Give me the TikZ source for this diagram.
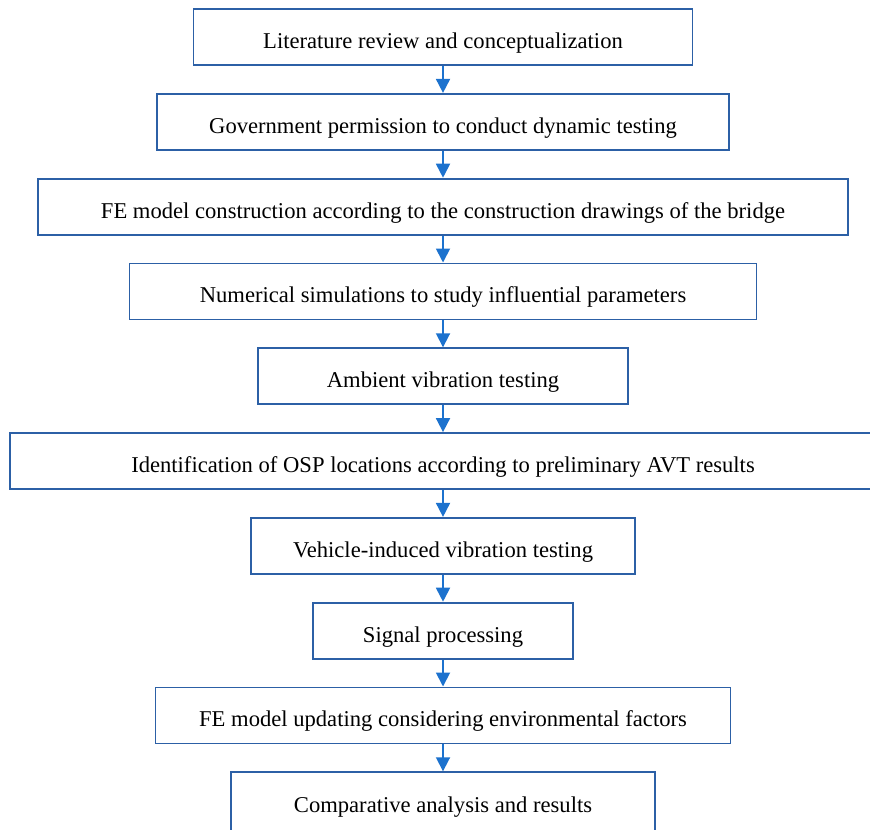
\documentclass[tikz,border=0pt]{standalone}
\usepackage{fontspec}
\setmainfont{Liberation Serif}
\usetikzlibrary{arrows.meta,positioning}
\definecolor{boxblue}{RGB}{44,96,166}
\definecolor{arrowblue}{RGB}{28,114,206}

\begin{document}
\begin{tikzpicture}[->,>={Triangle[width=7pt,length=7pt]},node distance=13.5pt,
                flow box/.style={rectangle,draw=boxblue,line width=0.9pt,fill=white,
                  minimum height=28pt,inner sep=0pt,text height=11.5pt,text depth=0pt,
                  font=\fontsize{11.3}{13}\selectfont},
                every edge/.style={draw=arrowblue,line width=0.9pt}]

  \useasboundingbox (0,0) rectangle (435pt,-414.5pt);

  \node[flow box,minimum width=249.5pt] (1) at (221.5pt,-18.5pt) {Literature review and conceptualization};
  \node[flow box,minimum width=286pt] (2) [below=of 1] {Government permission to conduct dynamic testing};
  \node[flow box,minimum width=405pt] (3) [below=of 2] {FE model construction according to the construction drawings of the bridge};
  \node[flow box,minimum width=313.5pt] (4) [below=of 3] {Numerical simulations to study influential parameters};
  \node[flow box,minimum width=185pt] (5) [below=of 4] {Ambient vibration testing};
  \node[flow box,minimum width=433pt] (6) [below=of 5] {Identification of OSP locations according to preliminary AVT results};
  \node[flow box,minimum width=192pt] (7) [below=of 6] {Vehicle-induced vibration testing};
  \node[flow box,minimum width=130pt] (8) [below=of 7] {Signal processing};
  \node[flow box,minimum width=287.5pt] (9) [below=of 8] {FE model updating considering environmental factors};
  \node[flow box,minimum width=212pt,minimum height=32pt,text height=8.5pt] (10) [below=of 9] {Comparative analysis and results};

  \path
    (1) edge (2)
    (2) edge (3)
    (3) edge (4)
    (4) edge (5)
    (5) edge (6)
    (6) edge (7)
    (7) edge (8)
    (8) edge (9)
    (9) edge (10);
\end{tikzpicture}
\end{document}
